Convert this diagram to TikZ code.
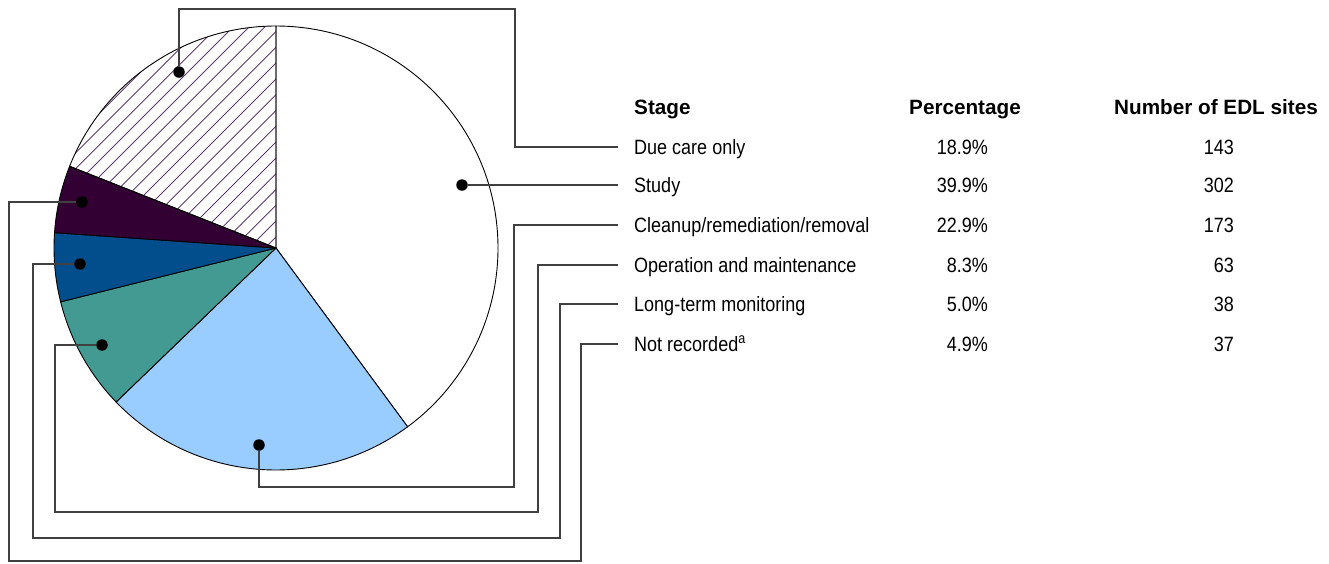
\documentclass[tikz,border=0pt]{standalone}
\usepackage{fontspec}
\setmainfont{Liberation Sans}
\newfontfamily\regfont{Liberation Sans}[FakeStretch=0.87]
\definecolor{nrpurple}{HTML}{330033}
\definecolor{ltmblue}{HTML}{024E8D}
\definecolor{omteal}{HTML}{439A92}
\definecolor{cllblue}{HTML}{99CCFF}
\definecolor{hatchc}{HTML}{5C3D6B}
\definecolor{leaderc}{HTML}{404040}
\begin{document}
\begin{tikzpicture}[x=1pt,y=-1pt,
  leader/.style={draw=leaderc, line width=1.3pt},
  slice/.style={draw=black, line width=0.9pt, line join=round},
  dotn/.style={circle, fill=black, inner sep=0pt, minimum size=11.5pt},
  lbl/.style={anchor=west, inner xsep=16pt, inner ysep=0pt, text height=18pt, text depth=4pt, font=\regfont\fontsize{20.7}{24}\selectfont},
  val/.style={anchor=base east, inner sep=0pt, font=\regfont\fontsize{20.7}{24}\selectfont},
  hdr/.style={inner sep=0pt, font=\bfseries\fontsize{20.7}{24}\selectfont},
  hatchline/.style={draw=hatchc, line width=0.9pt}]
\useasboundingbox (0,0) rectangle (1329,563);
\coordinate (C) at (276,248);
% slices
\filldraw[slice, fill=white] (C) -- ++(-90:222) arc[start angle=-90, end angle=53.64, radius=222] -- cycle;
\filldraw[slice, fill=cllblue] (C) -- ++(53.64:222) arc[start angle=53.64, end angle=136.08, radius=222] -- cycle;
\filldraw[slice, fill=omteal] (C) -- ++(136.08:222) arc[start angle=136.08, end angle=165.96, radius=222] -- cycle;
\filldraw[slice, fill=ltmblue] (C) -- ++(165.96:222) arc[start angle=165.96, end angle=183.96, radius=222] -- cycle;
\filldraw[slice, fill=nrpurple] (C) -- ++(183.96:222) arc[start angle=183.96, end angle=201.6, radius=222] -- cycle;
\begin{scope}
  \clip (C) -- ++(201.6:222) arc[start angle=201.6, end angle=270, radius=222] -- cycle;
  \foreach \k in {-16,...,15} {
    \draw[hatchline] ({307.5+15.8*\k-320}, 320) -- ({307.5+15.8*\k}, 0);
  }
\end{scope}
\draw[slice] (C) -- ++(201.6:222) arc[start angle=201.6, end angle=270, radius=222] -- cycle;
% dots
\node[dotn] (d1) at (179,72) {};
\node[dotn] (d2) at (462,185) {};
\node[dotn] (d3) at (259,445) {};
\node[dotn] (d4) at (102,345) {};
\node[dotn] (d5) at (80,264) {};
\node[dotn] (d6) at (82,202) {};
% headers
\node[hdr, anchor=base west] (h1) at (634,114) {Stage};
\node[hdr, anchor=base] (h2) at (965,114) {Percentage};
\node[hdr, anchor=base] (h3) at (1216,114) {Number of EDL sites};
% labels
\node[lbl] (l1) at (618,147) {Due care only};
\node[lbl] (l2) at (618,185) {Study};
\node[lbl] (l3) at (618,225) {Cleanup/remediation/removal};
\node[lbl] (l4) at (618,265) {Operation and maintenance};
\node[lbl] (l5) at (618,304) {Long-term monitoring};
\node[lbl] (l6) at (618,344) {Not recorded\textsuperscript{a}};
% values
\node[val] (p1) at (988,154) {18.9\%};
\node[val] (p2) at (988,192) {39.9\%};
\node[val] (p3) at (988,232) {22.9\%};
\node[val] (p4) at (988,272) {8.3\%};
\node[val] (p5) at (988,311) {5.0\%};
\node[val] (p6) at (988,351) {4.9\%};
\node[val] (n1) at (1234,154) {143};
\node[val] (n2) at (1234,192) {302};
\node[val] (n3) at (1234,232) {173};
\node[val] (n4) at (1234,272) {63};
\node[val] (n5) at (1234,311) {38};
\node[val] (n6) at (1234,351) {37};
% leaders
\draw[leader] (d1) -- (179,9) -| (515,147) -- (l1.west);
\draw[leader] (d2) -- (l2.west);
\draw[leader] (d3) |- (514,487) |- (l3.west);
\draw[leader] (d4) -| (55,512) -| (538,265) -- (l4.west);
\draw[leader] (d5) -| (33,538) -| (560,304) -- (l5.west);
\draw[leader] (d6) -| (9,561) -| (581,344) -- (l6.west);
\end{tikzpicture}
\end{document}
